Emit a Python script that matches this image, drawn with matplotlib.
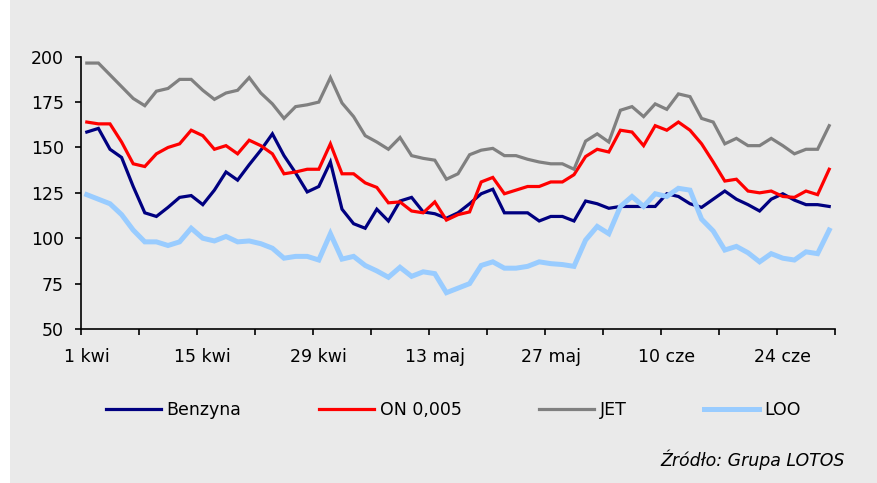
#Importing the libraries
import numpy as np
import matplotlib
matplotlib.use('Agg')
import matplotlib.pyplot as plt
from matplotlib.patches import Rectangle

#Data - business days from 1 kwi to 30 cze
benzyna = [158.5, 160.5, 149, 144.5, 128.5, 114, 112, 117, 122.5, 123.5, 118.5,
           126.5, 136.5, 132, 140.5, 148.5, 157.5, 145.5, 136, 125.5, 128.5, 142,
           116, 108, 105.5, 116, 109.5, 120.5, 122.5, 114.5, 113.5, 111, 114,
           119, 124.5, 127, 114, 114, 114, 109.5, 112, 112, 109.5, 120.5,
           119, 116.5, 117.5, 117.5, 117.5, 117.5, 124.5, 123, 119, 117, 121.5,
           126, 121.5, 118.5, 115, 121.5, 124.5, 121, 118.5, 118.5, 117.5]
on_0005 = [164, 163, 163, 153, 141, 139.5, 146.5, 150, 152, 159.5, 156.5,
           149, 151, 146.5, 154, 151, 146.5, 135.5, 136.5, 138, 138, 152,
           135.5, 135.5, 130.5, 128, 119.5, 120, 115, 114, 120, 110, 113,
           114.5, 131, 133.5, 124.5, 126.5, 128.5, 128.5, 131, 131, 135, 145,
           149, 147.5, 159.5, 158.5, 151, 162, 159.5, 164, 159.5, 152, 142,
           131.5, 132.5, 126, 125, 126, 123, 122.5, 126, 124, 138]
jet = [196.5, 196.5, 190, 183.5, 177, 173, 181, 182.5, 187.5, 187.5, 181.5,
       176.5, 180, 181.5, 188.5, 180, 174, 166, 172.5, 173.5, 175, 188.5,
       174.5, 167, 156.5, 153, 149, 155.5, 145.5, 144, 143, 132.5, 135.5,
       146, 148.5, 149.5, 145.5, 145.5, 143.5, 142, 141, 141, 138, 153.5,
       157.5, 153, 170.5, 172.5, 167, 174, 171, 179.5, 178, 166, 164,
       152, 155, 151, 151, 155, 151, 146.5, 149, 149, 162]
loo = [124, 121.5, 119, 113, 104.5, 98, 98, 96, 98, 105.5, 100,
       98.5, 101, 98, 98.5, 97, 94.5, 89, 90, 90, 88, 102.5,
       88.5, 90, 85, 82, 78.5, 84, 79, 81.5, 80.5, 70, 72.5,
       75, 85, 87, 83.5, 83.5, 84.5, 87, 86, 85.5, 84.5, 99,
       106.5, 102.5, 117.5, 123, 117.5, 124.5, 123, 127.5, 126.5, 110.5, 104,
       93.5, 95.5, 92, 87, 91.5, 89, 88, 92.5, 91.5, 104.5]
x_labels = ['1 kwi', '15 kwi', '29 kwi', '13 maj', '27 maj', '10 cze', '24 cze']
y_ticks = [50, 75, 100, 125, 150, 175, 200]

bg = '#EAEAEA'
plt.rcParams['font.family'] = ['DejaVu Sans']
plt.rcParams['font.size'] = 12.5

#Figure
fig = plt.figure(figsize=(8.77, 4.83), dpi=100, facecolor=bg)
fig.patches.append(Rectangle((0, 0), 10 / 877, 1, transform=fig.transFigure,
                             facecolor='white', edgecolor='none', zorder=0))
ax = fig.add_axes([81 / 877, 1 - 329 / 483, (835 - 81) / 877, (329 - 56.7) / 483])
ax.set_facecolor(bg)

x = np.arange(len(benzyna))
ax.plot(x, benzyna, color='#000080', lw=2.3, label='Benzyna', solid_joinstyle='miter')
ax.plot(x, on_0005, color='#FF0000', lw=2.3, label='ON 0,005', solid_joinstyle='miter')
ax.plot(x, jet, color='#808080', lw=2.3, label='JET', solid_joinstyle='miter')
ax.plot(x, loo, color='#99CCFF', lw=3.6, label='LOO', solid_joinstyle='miter')

#Axes
ax.set_xlim(-0.5, len(x) - 0.5)
ax.set_ylim(50, 200)
ax.set_yticks(y_ticks)
ax.set_xticks(np.arange(-0.5, len(x), 5))
ax.set_xticklabels([])
ax.set_xticks(np.arange(0, len(x), 10), minor=True)
ax.set_xticklabels(x_labels, minor=True)
ax.tick_params(axis='x', which='major', direction='out', length=4.5, width=1.2)
ax.tick_params(axis='x', which='minor', length=0, pad=14)
ax.tick_params(axis='y', direction='out', length=4.5, width=1.2, pad=8)
for s in ['top', 'right']:
    ax.spines[s].set_visible(False)
for s in ['left', 'bottom']:
    ax.spines[s].set_linewidth(1.2)

#Legend and source
fig.legend(loc='center', bbox_to_anchor=(0.517, 1 - 410 / 483), ncol=4,
           frameon=False, handlelength=3.2, handletextpad=0.3, columnspacing=4.45)
fig.text(845 / 877, 1 - 460 / 483, 'Źródło: Grupa LOTOS', ha='right', va='center',
         style='italic')

plt.savefig('out.png', dpi=100, facecolor=bg)
